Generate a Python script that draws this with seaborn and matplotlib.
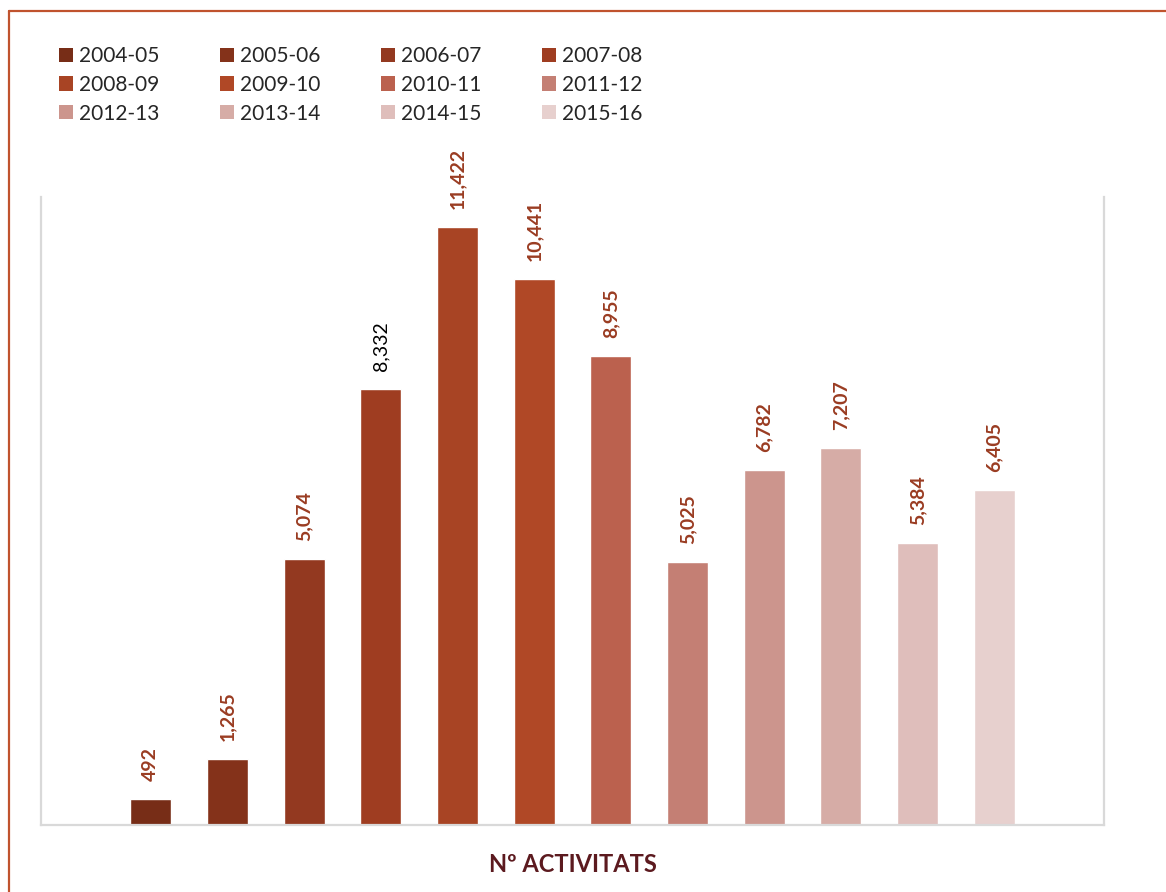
import matplotlib
matplotlib.use("Agg")
import matplotlib.pyplot as plt
from matplotlib.patches import Patch
from matplotlib.lines import Line2D
import seaborn as sns
import pandas as pd

# Activities per academic year
seasons = ["2004-05", "2005-06", "2006-07", "2007-08", "2008-09", "2009-10",
           "2010-11", "2011-12", "2012-13", "2013-14", "2014-15", "2015-16"]
activities = [492, 1265, 5074, 8332, 11422, 10441, 8955, 5025, 6782, 7207, 5384, 6405]
bar_colors = ["#772d17", "#84321a", "#933920", "#9f3d21", "#a84424", "#b04826",
              "#bb614e", "#c47f74", "#cc958d", "#d6aca6", "#dfbebb", "#e7d0ce"]

sns.set_theme(style="white")
plt.rcParams["font.family"] = ["Lato", "DejaVu Sans"]

df = pd.DataFrame({"season": seasons, "n": activities})

W, H = 1166, 892
fig = plt.figure(figsize=(W / 100, H / 100), dpi=100)
ax = fig.add_axes([41 / W, 1 - 825 / H, (1104 - 41) / W, (825 - 197) / H])

sns.barplot(data=df, x="season", y="n", hue="season", palette=bar_colors,
            dodge=False, legend=False, saturation=1, width=0.535, ax=ax)

ax.set_xlim(-1.43, len(seasons) - 1 + 1.43)
ax.set_ylim(0, 12000)
ax.set_xticks([])
ax.set_yticks([])
ax.set_ylabel("")
ax.set_xlabel("Nº ACTIVITATS", fontsize=17, fontweight="bold", color="#5c1a1f",
              labelpad=20)

for side in ("left", "right", "bottom"):
    ax.spines[side].set_color("#d9d9d9")
    ax.spines[side].set_linewidth(1.6)
    ax.spines[side].set_visible(True)
ax.spines["top"].set_visible(False)

# Value labels above the bars
for i, v in enumerate(activities):
    plain = v == 8332
    ax.annotate(f"{v:,}", xy=(i, v), xytext=(0, 13), textcoords="offset points",
                rotation=90, ha="center", va="bottom", fontsize=14,
                fontweight="normal" if plain else "bold",
                color="black" if plain else "#9a3c22")

# Legend laid out row by row (matplotlib fills columns first)
ncol, nrow = 4, 3
order = [r * ncol + c for c in range(ncol) for r in range(nrow)]
handles = [Patch(facecolor=bar_colors[k], edgecolor="none") for k in order]
labels = [seasons[k] for k in order]
fig.legend(handles, labels, ncol=ncol, loc="upper left",
           bbox_to_anchor=(59 / W, 1 - 46 / H), frameon=False, fontsize=15,
           handlelength=0.67, handleheight=0.67, handletextpad=0.3,
           columnspacing=2.9, labelspacing=0.42, borderpad=0, borderaxespad=0)

# Outer frame (left and top edges)
frame_color = "#c0532e"
fig.add_artist(Line2D([9 / W, 9 / W], [0, 1 - 11 / H], transform=fig.transFigure,
                      color=frame_color, lw=1.6))
fig.add_artist(Line2D([9 / W, 1], [1 - 11 / H, 1 - 11 / H], transform=fig.transFigure,
                      color=frame_color, lw=1.6))

fig.savefig("out.png", dpi=100)
